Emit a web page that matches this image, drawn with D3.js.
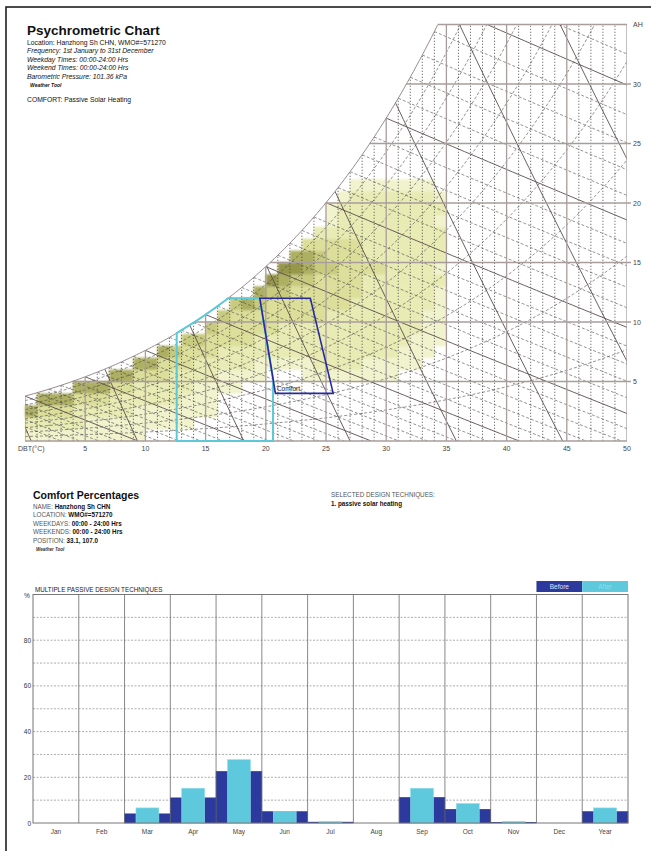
<!DOCTYPE html>
<html>
<head>
<meta charset="utf-8">
<script src="https://cdn.jsdelivr.net/npm/d3@7"></script>
<style>
  body { margin: 0; background: #fff; }
  svg { display: block; }
  text { font-family: "Liberation Sans", Arial, sans-serif; }
</style>
</head>
<body>
<svg id="chart" width="651" height="851"></svg>
<script>
// ---------- psychrometric data ----------
const pressureKPa = 101.36;
const dbtTicks = [5, 10, 15, 20, 25, 30, 35, 40, 45, 50];
const ahTicks = [5, 10, 15, 20, 25, 30];
const rhLevels = [0.1, 0.2, 0.3, 0.4, 0.5, 0.6, 0.7, 0.8, 0.9];
const volumeLevels = [0.775, 0.8, 0.825, 0.85, 0.875, 0.9, 0.925, 0.95];
// hourly frequency class per 1°C DBT column (index = DBT), one digit per 1 g/kg AH band from 0 upward
const densityByDbt = [
  "125", "1235", "1235", "1235", "12235", "11235", "11235", "112235", "112235",
  "1112235", "0112235", "01122335", "01122234", "011122334", "001112234",
  "0011122334", "00001122334", "000011223334", "000001223335", "0000011223345",
  "00000012233346", "000000122233456", "0000001222333465", "00000112223334553",
  "000001222233334432", "00000122222333433211", "000001222223333332221",
  "0000012222223333322221", "0000011222222232222221", "0000011222222232222221",
  "0000011222222222222221", "0000001122222222222221", "0000001112222222222221",
  "0000000111122222222221", "0000000011111212221210"
];
const densityColors = ["none", "#f1f3cd", "#e8ebb3", "#dcdf9a", "#c8cb7e", "#adaf62", "#96974a"];
// comfort zone corners [DBT, AH]
const comfortZone = [[19.5, 12], [23.7, 12], [25.6, 4], [20.8, 4]];
// passive solar heating zone
const solarDbtMin = 12.6, solarDbtMax = 20.6, solarAhTop = 12;

// ---------- comfort percentages data ----------
const months = ["Jan", "Feb", "Mar", "Apr", "May", "Jun", "Jul", "Aug", "Sep", "Oct", "Nov", "Dec", "Year"];
const beforePct = [0, 0, 4.0, 11.0, 22.6, 5.0, 0.4, 0, 11.2, 6.0, 0.3, 0, 5.0];
const afterPct  = [0, 0, 6.6, 15.2, 27.7, 5.1, 0.6, 0, 15.2, 8.5, 0.7, 0, 6.6];
const pctTicks = [0, 20, 40, 60, 80];
const pctGrid = [10, 20, 30, 40, 50, 60, 70, 80, 90];

const svg = d3.select("#chart");
svg.append("rect").attr("width", 651).attr("height", 851).attr("fill", "#fff");
svg.append("path").attr("d", "M6,851V7H651").attr("fill", "none")
  .attr("stroke", "#111").attr("stroke-width", 1.5);

// ---------- psychrometric chart ----------
const x = d3.scaleLinear().domain([0, 50]).range([25, 627]);
const y = d3.scaleLinear().domain([0, 35]).range([441, 24.5]);
const pws = t => 0.61094 * Math.exp(17.625 * t / (t + 243.04));
const wAt = (t, rh) => 622 * rh * pws(t) / (pressureKPa - rh * pws(t));
const wSat = t => wAt(t, 1);
const tSat = w => {
  let lo = -30, hi = 70;
  for (let i = 0; i < 60; i++) { const m = (lo + hi) / 2; if (wSat(m) < w) lo = m; else hi = m; }
  return (lo + hi) / 2;
};
const tTop = tSat(35);
const line = d3.line().x(d => x(d[0])).y(d => y(d[1]));
const satPts = d3.range(0, tTop, 0.25).map(t => [t, wSat(t)]).concat([[tTop, 35]]);

const defs = svg.append("defs");
defs.append("clipPath").attr("id", "under-sat")
  .append("path").attr("d", line([[0, 0]].concat(satPts, [[50, 35], [50, 0]])) + "Z");
const blur = defs.append("filter").attr("id", "soft").attr("x", "-5%").attr("y", "-5%").attr("width", "110%").attr("height", "110%");
blur.append("feGaussianBlur").attr("stdDeviation", 1.0);

const psy = svg.append("g");

// frequency cells
const cells = [];
densityByDbt.forEach((col, t) => {
  col.split("").forEach((c, w) => {
    const lvl = +c;
    if (lvl > 0 && w + 1 <= wSat(t) + 0.05) cells.push({ t, w, lvl });
  });
});
psy.append("g").attr("filter", "url(#soft)")
  .selectAll("rect").data(cells).join("rect")
  .attr("x", d => x(d.t)).attr("y", d => y(d.w + 1))
  .attr("width", x(1) - x(0) + 0.3).attr("height", y(0) - y(1) + 0.3)
  .attr("fill", d => densityColors[d.lvl]);

const grid = psy.append("g").attr("clip-path", "url(#under-sat)").attr("fill", "none");

// 1°C dotted verticals
grid.selectAll(".vdot").data(d3.range(1, 50).filter(t => t % 5 !== 0)).join("line")
  .attr("x1", d => x(d)).attr("x2", d => x(d)).attr("y1", y(0)).attr("y2", y(35))
  .attr("stroke", "#3a3a3a").attr("stroke-width", 0.7).attr("stroke-dasharray", "1.3,1.7");

// relative humidity curves
grid.selectAll(".rh").data(rhLevels).join("path")
  .attr("d", rh => line(d3.range(0, 50.01, 0.5).map(t => [t, wAt(t, rh)])))
  .attr("stroke", "#4a4a4a").attr("stroke-width", 0.6).attr("stroke-dasharray", "3,2");

// wet-bulb lines
const wbLine = twb => {
  const a = (2501 - 2.326 * twb) * wSat(twb) / 1000;
  const wb = t => 1000 * (a - 1.006 * (t - twb)) / (2501 + 1.86 * t - 4.186 * twb);
  const tEnd = Math.min(50, twb + a / 1.006);
  const pts = [];
  for (let t = Math.max(twb, 0); t < tEnd; t += 0.5) pts.push([t, wb(t)]);
  pts.push([tEnd, Math.max(0, wb(tEnd))]);
  return pts;
};
const wbLevels = d3.range(-4, 37).filter(t => t + (2501 - 2.326 * t) * wSat(t) / 1000 / 1.006 > 0);
grid.selectAll(".wb").data(wbLevels).join("path")
  .attr("d", d => line(wbLine(d)))
  .attr("stroke", d => d % 5 === 0 ? "#5a4d4d" : "#4a4a4a")
  .attr("stroke-width", d => d % 5 === 0 ? 0.9 : 0.6)
  .attr("stroke-dasharray", d => d % 5 === 0 ? null : "3,2");

// specific volume lines
grid.selectAll(".vol").data(volumeLevels).join("path")
  .attr("d", v => line(d3.range(0, 35.01, 1).map(w => [v * pressureKPa / (0.287042 * (1 + 1.6078 * w / 1000)) - 273.15, w])))
  .attr("stroke", "#5a4d4d").attr("stroke-width", 0.9);

// 5°C and 5 g/kg major grid
grid.selectAll(".vmaj").data([0].concat(dbtTicks)).join("line")
  .attr("x1", d => x(d)).attr("x2", d => x(d)).attr("y1", y(0)).attr("y2", y(35))
  .attr("stroke", "#a99c9c").attr("stroke-width", 1.3);
psy.selectAll(".hmaj").data(ahTicks.concat([35])).join("line")
  .attr("x1", d => x(tSat(d))).attr("x2", d => d === 35 ? x(50) : x(50) + 4)
  .attr("y1", d => y(d)).attr("y2", d => y(d))
  .attr("stroke", "#a99c9c").attr("stroke-width", 1.3);
psy.append("line").attr("x1", x(0)).attr("x2", x(50)).attr("y1", y(0)).attr("y2", y(0))
  .attr("stroke", "#a99c9c").attr("stroke-width", 1.3);
psy.append("path").attr("d", line(satPts)).attr("fill", "none")
  .attr("stroke", "#9a8c8c").attr("stroke-width", 1);

// passive solar heating zone
const solarPts = [[solarDbtMin, 0]]
  .concat(d3.range(solarDbtMin, tSat(solarAhTop), 0.2).map(t => [t, wSat(t)]))
  .concat([[tSat(solarAhTop), solarAhTop], comfortZone[0],
    [solarDbtMax, comfortZone[0][1] + (comfortZone[3][1] - comfortZone[0][1]) * (solarDbtMax - comfortZone[0][0]) / (comfortZone[3][0] - comfortZone[0][0])],
    [solarDbtMax, 0]]);
psy.append("path").attr("d", line(solarPts) + "Z").attr("fill", "none")
  .attr("stroke", "#5cc8d8").attr("stroke-width", 2);

// comfort zone
psy.append("path").attr("d", line(comfortZone) + "Z").attr("fill", "none")
  .attr("stroke", "#2a2a9c").attr("stroke-width", 1.6);
psy.append("text").attr("x", x(comfortZone[3][0]) + 1.5).attr("y", y(comfortZone[3][1]) - 2)
  .attr("font-size", 6.5).attr("fill", "#222").text("Comfort");

// axis labels
psy.selectAll(".xt").data(dbtTicks).join("text")
  .attr("x", d => x(d)).attr("y", 451).attr("text-anchor", "middle")
  .attr("font-size", 7).attr("fill", "#444").text(d => d);
psy.append("text").attr("x", 18).attr("y", 451).attr("font-size", 7).attr("fill", "#444").text("DBT(°C)");
psy.selectAll(".yt").data(ahTicks).join("text")
  .attr("x", 633).attr("y", d => y(d) + 2.5)
  .attr("font-size", 7).attr("fill", "#444").text(d => d);
psy.append("text").attr("x", 633).attr("y", 27).attr("font-size", 7).attr("fill", "#444").text("AH");

// header text
const hdr = svg.append("g").attr("fill", "#111");
hdr.append("text").attr("x", 27).attr("y", 35).attr("font-size", 13.5).attr("font-weight", "bold").text("Psychrometric Chart");
const hdrLines = [
  ["Location: Hanzhong Sh CHN, WMO#=571270", 45, "normal"],
  ["Frequency: 1st January to 31st December", 53, "italic"],
  ["Weekday Times: 00:00-24:00 Hrs", 61.5, "italic"],
  ["Weekend Times: 00:00-24:00 Hrs", 70, "italic"],
  ["Barometric Pressure: 101.36 kPa", 78.5, "italic"]
];
hdrLines.forEach(([t, yy, st]) => hdr.append("text").attr("x", 27).attr("y", yy)
  .attr("font-size", 6.8).attr("font-style", st).text(t));
hdr.append("text").attr("x", 30).attr("y", 86.5).attr("font-size", 5).attr("font-weight", "bold")
  .attr("font-style", "italic").text("Weather Tool");
hdr.append("text").attr("x", 27).attr("y", 102).attr("font-size", 6.8).text("COMFORT: Passive Solar Heating");

// ---------- comfort percentages block ----------
const info = svg.append("g");
info.append("text").attr("x", 33).attr("y", 499).attr("font-size", 10.5).attr("font-weight", "bold")
  .attr("fill", "#111").text("Comfort Percentages");
const infoRows = [
  ["NAME:", "Hanzhong Sh CHN", 509],
  ["LOCATION:", "WMO#=571270", 517],
  ["WEEKDAYS:", "00:00 - 24:00 Hrs", 525.5],
  ["WEEKENDS:", "00:00 - 24:00 Hrs", 534],
  ["POSITION:", "33.1, 107.0", 542.5]
];
infoRows.forEach(([k, v, yy]) => {
  const t = info.append("text").attr("x", 33).attr("y", yy).attr("font-size", 6.3);
  t.append("tspan").attr("fill", "#555").text(k + " ");
  t.append("tspan").attr("fill", "#111").attr("font-weight", "bold").text(v);
});
info.append("text").attr("x", 36).attr("y", 551).attr("font-size", 4.5).attr("font-weight", "bold")
  .attr("font-style", "italic").attr("fill", "#333").text("Weather Tool");
info.append("text").attr("x", 331).attr("y", 497).attr("font-size", 6.3).attr("fill", "#555")
  .text("SELECTED DESIGN TECHNIQUES:");
info.append("text").attr("x", 331).attr("y", 505.5).attr("font-size", 6.3).attr("font-weight", "bold")
  .attr("fill", "#111").text("1. passive solar heating");

// ---------- bar chart ----------
const bx = d3.scaleBand().domain(months).range([33, 628]).padding(0);
const by = d3.scaleLinear().domain([0, 100]).range([823, 594.5]);
const bars = svg.append("g");

bars.selectAll(".hg").data(pctGrid).join("line")
  .attr("x1", 33).attr("x2", 628).attr("y1", d => by(d)).attr("y2", d => by(d))
  .attr("stroke", "#8a8a8a").attr("stroke-width", 0.7).attr("stroke-dasharray", "2,1.5");

bars.selectAll(".before").data(months).join("rect")
  .attr("x", d => bx(d)).attr("width", bx.bandwidth())
  .attr("y", (d, i) => by(beforePct[i])).attr("height", (d, i) => by(0) - by(beforePct[i]))
  .attr("fill", "#2c3a9e").attr("stroke", "#1d2a82").attr("stroke-width", 0.5);
bars.selectAll(".after").data(months).join("rect")
  .attr("x", d => bx(d) + bx.bandwidth() * 0.25).attr("width", bx.bandwidth() * 0.5)
  .attr("y", (d, i) => by(afterPct[i])).attr("height", (d, i) => by(0) - by(afterPct[i]))
  .attr("fill", "#5ec9dd").attr("stroke", "#8fdbe8").attr("stroke-width", 0.6);

bars.selectAll(".vg").data(months.slice(1)).join("line")
  .attr("x1", d => bx(d)).attr("x2", d => bx(d)).attr("y1", by(100)).attr("y2", by(0))
  .attr("stroke", "#6a6a6a").attr("stroke-width", 0.8);
bars.append("rect").attr("x", 33).attr("y", by(100)).attr("width", 595).attr("height", by(0) - by(100))
  .attr("fill", "none").attr("stroke", "#777").attr("stroke-width", 1);

bars.selectAll(".yl").data(pctTicks).join("text")
  .attr("x", 31).attr("y", d => by(d) + 2.5).attr("text-anchor", "end")
  .attr("font-size", 6.5).attr("fill", "#333").text(d => d);
bars.append("text").attr("x", 24).attr("y", 598).attr("font-size", 6.5).attr("fill", "#333").text("%");
bars.selectAll(".xl").data(months).join("text")
  .attr("x", d => bx(d) + bx.bandwidth() / 2).attr("y", 834).attr("text-anchor", "middle")
  .attr("font-size", 6.5).attr("fill", "#444").text(d => d);
bars.append("text").attr("x", 35).attr("y", 592).attr("font-size", 6.3)
  .attr("font-family", "'Liberation Sans Narrow', 'Liberation Sans', sans-serif")
  .attr("fill", "#222").text("MULTIPLE PASSIVE DESIGN TECHNIQUES");

// legend
const lg = bars.append("g");
lg.append("rect").attr("x", bx("Dec")).attr("y", 581).attr("width", bx.bandwidth()).attr("height", 11).attr("fill", "#2c3a9e");
lg.append("rect").attr("x", bx("Year")).attr("y", 581).attr("width", bx.bandwidth()).attr("height", 11).attr("fill", "#5ec9dd");
lg.append("text").attr("x", bx("Dec") + bx.bandwidth() / 2).attr("y", 589).attr("text-anchor", "middle")
  .attr("font-size", 6.5).attr("fill", "#dfe3ff").text("Before");
lg.append("text").attr("x", bx("Year") + bx.bandwidth() / 2).attr("y", 589).attr("text-anchor", "middle")
  .attr("font-size", 6.5).attr("fill", "#8fdce8").text("After");
</script>
</body>
</html>
